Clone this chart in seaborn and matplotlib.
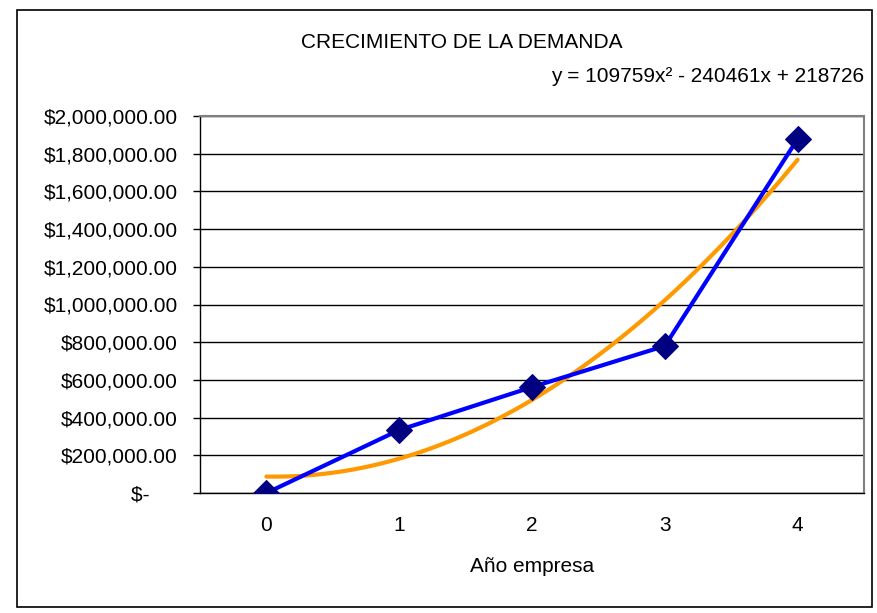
import matplotlib
matplotlib.use("Agg")
import matplotlib.pyplot as plt
import matplotlib.ticker as mticker
import seaborn as sns
import pandas as pd

# data
anios = [0, 1, 2, 3, 4]
demanda = [0, 334000, 562000, 780000, 1878000]
titulo = "CRECIMIENTO DE LA DEMANDA"
ecuacion = "y = 109759x² - 240461x + 218726"
xlabel = "Año empresa"

sns.set_style("white")
plt.rcParams['font.family'] = ['Liberation Sans', 'DejaVu Sans']
plt.rcParams['text.color'] = 'black'
plt.rcParams['axes.labelcolor'] = 'black'
plt.rcParams['xtick.color'] = 'black'
plt.rcParams['ytick.color'] = 'black'

df = pd.DataFrame({'anio': anios, 'demanda': demanda})

fig = plt.figure(figsize=(8.77, 6.13), dpi=100)
# outer chart frame
fig.patches.append(plt.Rectangle((17 / 877, 1 - 607 / 613), 855 / 877, 597 / 613,
                                 transform=fig.transFigure, fill=False,
                                 edgecolor='black', linewidth=1.2))
ax = fig.add_axes([200 / 877, 1 - 493 / 613, 664 / 877, 377 / 613])

# gridlines
ax.set_axisbelow(True)
ax.yaxis.grid(True, color='black', linewidth=1)

sns.lineplot(data=df, x='anio', y='demanda', ax=ax, color='#0000FF', linewidth=3,
             marker='D', markersize=13, markerfacecolor='#000080',
             markeredgecolor='#000080', zorder=3)
sns.regplot(data=df, x='anio', y='demanda', ax=ax, order=2, ci=None, scatter=False,
            truncate=True, line_kws={'color': '#FF9900', 'linewidth': 3, 'zorder': 2})

ax.set_xlim(-0.5, 4.5)
ax.set_ylim(0, 2000000)
ax.set_yticks(range(0, 2000001, 200000))


def fmt_money(v, pos):
    if v == 0:
        return "$-     "
    return "${:,.2f}".format(v)


ax.yaxis.set_major_formatter(mticker.FuncFormatter(fmt_money))
ax.set_xticks(anios)
ax.set_xticks([a - 0.5 for a in anios] + [4.5], minor=True)
ax.tick_params(axis='x', which='major', length=0, pad=16.5, labelsize=15)
ax.tick_params(axis='x', which='minor', length=5, width=1, color='black', direction='out')
ax.tick_params(axis='y', length=5, width=1, color='black', direction='out', pad=11, labelsize=15)
ax.tick_params(axis='both', left=True, bottom=True)

for s in ['left', 'bottom']:
    ax.spines[s].set_color('black')
    ax.spines[s].set_linewidth(1)
for s in ['top', 'right']:
    ax.spines[s].set_color('#808080')
    ax.spines[s].set_linewidth(1.5)

ax.set_xlabel(xlabel, fontsize=15, labelpad=16)
ax.set_ylabel("")

fig.text(462 / 877, 1 - 43 / 613, titulo, ha='center', va='center', fontsize=15)
fig.text(864 / 877, 1 - 76 / 613, ecuacion, ha='right', va='center', fontsize=15)

fig.savefig("out.png", dpi=100)
